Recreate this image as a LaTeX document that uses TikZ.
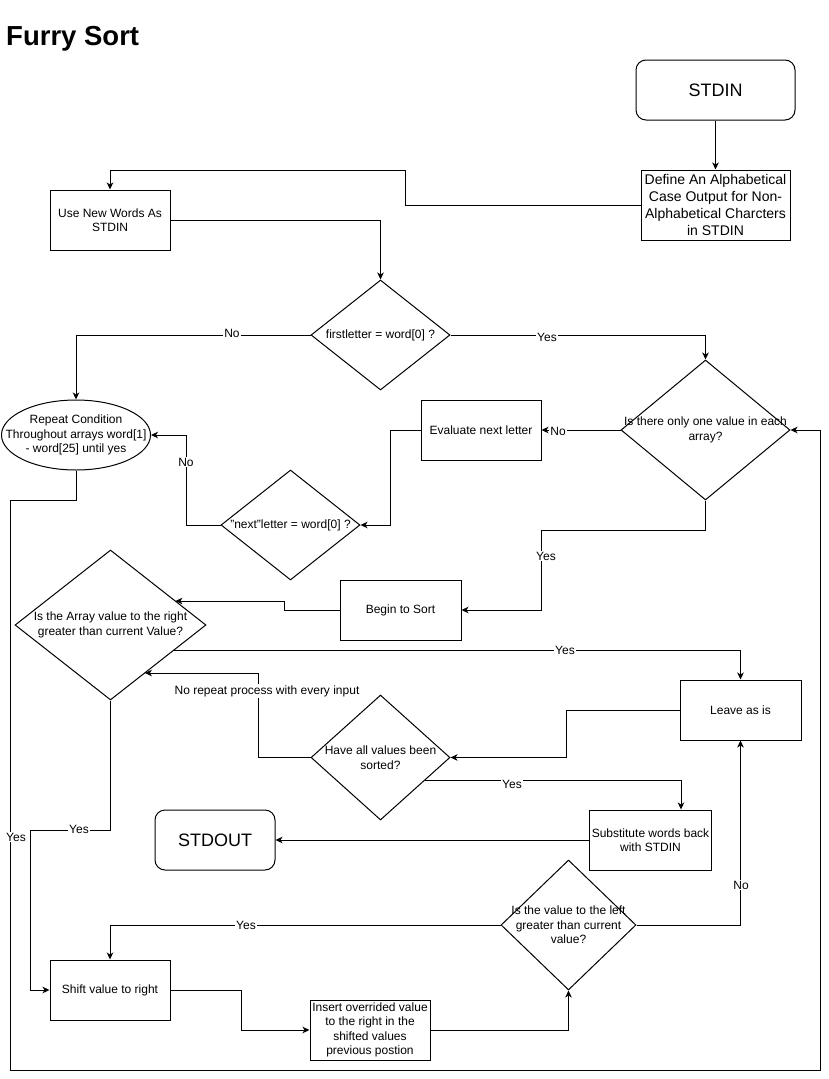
\documentclass[tikz,border=0pt]{standalone}
\usepackage{fontspec}
\setmainfont{Liberation Sans}
\usetikzlibrary{shapes.geometric,arrows.meta}
\begin{document}
\begin{tikzpicture}[x=1pt,y=-1pt,
  every node/.style={font=\fontsize{12}{14.5}\selectfont},
  box/.style={draw,line width=1pt,rectangle,align=center,inner sep=2pt},
  dia/.style={draw,line width=1pt,shape=diamond,inner sep=0pt},
  ell/.style={draw,line width=1pt,shape=ellipse,inner sep=0pt},
  txt/.style={align=center,inner sep=0pt},
  lab/.style={fill=white,inner sep=1pt,font=\fontsize{12}{14}\selectfont},
  arr/.style={line width=1pt,-{Stealth[length=7pt,width=6.5pt,inset=2pt]}},
  big/.style={font=\fontsize{18}{21}\selectfont}]
\useasboundingbox (0,0) rectangle (829,1079);
\fill[white] (0,0) rectangle (829,1079);

% title
\node[anchor=base west,inner sep=0pt,font=\bfseries\fontsize{27.5}{30}\selectfont] (title) at (6,45) {Furry Sort};

% nodes
\node[box,big,minimum width=159pt,minimum height=60pt,rounded corners=10pt] (stdin) at (715.5,90) {STDIN};
\node[box,minimum width=149pt,minimum height=70pt,font=\fontsize{14}{16.8}\selectfont] (def) at (715.5,205) {Define An Alphabetical\\Case Output for Non-\\Alphabetical Charcters\\in STDIN};
\node[box,minimum width=120pt,minimum height=60pt] (use) at (110,220) {Use New Words As\\STDIN};
\node[dia,minimum width=139pt,minimum height=110pt,label={[txt]center:{firstletter = word[0] ?}}] (d1) at (380.5,335) {};
\node[dia,minimum width=169pt,minimum height=140pt,label={[txt]center:{Is there only one value in each\\array?}}] (d2) at (705.5,430) {};
\node[box,minimum width=120pt,minimum height=60pt] (eval) at (481,430) {Evaluate next letter};
\node[dia,minimum width=139pt,minimum height=110pt,label={[txt]center:{"next"letter = word[0] ?}}] (d3) at (290.5,525) {};
\node[ell,minimum width=149pt,minimum height=70pt,label={[txt]center:{Repeat Condition\\Throughout arrays word[1]\\- word[25] until yes}}] (rep) at (76,435) {};
\node[box,minimum width=121pt,minimum height=60pt] (begin) at (400.5,610) {Begin to Sort};
\node[dia,minimum width=191pt,minimum height=150pt,label={[txt]center:{Is the Array value to the right\\greater than current Value?}}] (d4) at (110.5,625) {};
\node[box,minimum width=121pt,minimum height=60pt] (leave) at (740.5,710) {Leave as is};
\node[dia,minimum width=139pt,minimum height=125pt,label={[txt]center:{Have all values been\\sorted?}}] (d5) at (380.5,757.5) {};
\node[box,minimum width=121pt,minimum height=60pt] (subst) at (650.5,840) {Substitute words back\\with STDIN};
\node[box,big,minimum width=120pt,minimum height=60pt,rounded corners=10pt] (stdout) at (215,840) {STDOUT};
\node[dia,minimum width=135pt,minimum height=130pt,label={[txt]center:{Is the value to the left\\greater than current\\value?}}] (d6) at (568.5,925) {};
\node[box,minimum width=120pt,minimum height=60pt] (shift) at (110,990) {Shift value to right};
\node[box,minimum width=120pt,minimum height=60pt] (insert) at (370,1030) {Insert overrided value\\to the right in the\\shifted values\\previous postion};

% helper coordinates on diamond borders
\coordinate (d4a) at (175.4,601);
\coordinate (d4b) at (174.2,650);
\coordinate (d4c) at (144.9,673);
\coordinate (d5b) at (425,780);

% connectors
\draw[arr] (stdin.south) -- (def.north);
\draw[arr] (def.west) -| (405,170) -| (use.north);
\draw[arr] (use.east) -| (d1.north);
\draw[arr] (d1.west) -| (rep.north);
\draw[arr] (d1.east) -| (d2.north);
\draw[arr] (d2.west) -- (eval.east);
\draw[arr] (eval.west) -| (390,525) -- (d3.east);
\draw[arr] (d3.west) -| (186,435) -- (rep.east);
\draw[arr] (rep.south) -- (76,500) -- (10,500) -- (10,1070) -- (820,1070) -- (820,430) -- (d2.east);
\draw[arr] (d2.south) |- (541,530) |- (begin.east);
\draw[arr] (begin.west) -| (284,601) -- (d4a);
\draw[arr] (d4b) -| (leave.north);
\draw[arr] (leave.west) -| (566,757.5) -- (d5.east);
\draw[arr] (d5.west) -| (258,673) -- (d4c);
\draw[arr] (d5b) -| ([xshift=30.5pt]subst.north);
\draw[arr] (subst.west) -- (stdout.east);
\draw[arr] (d4.south) |- (30,830) |- (shift.west);
\draw[arr] (d6.east) -| (leave.south);
\draw[arr] (d6.west) -| (shift.north);
\draw[arr] (shift.east) -| (241,1030) -- (insert.west);
\draw[arr] (insert.east) -| (d6.south);

% edge labels
\node[lab] (l1) at (232,333) {No};
\node[lab] (l2) at (547,337) {Yes};
\node[lab] (l3) at (558,431) {No};
\node[lab] (l4) at (186,462) {No};
\node[lab] (l5) at (546,556) {Yes};
\node[lab] (l6) at (16,837) {Yes};
\node[lab] (l7) at (565,650) {Yes};
\node[lab] (l8) at (267,691) {No repeat process with every input};
\node[lab] (l9) at (512,784) {Yes};
\node[lab] (l10) at (79,829) {Yes};
\node[lab] (l11) at (741,885) {No};
\node[lab] (l12) at (246,925) {Yes};
\end{tikzpicture}
\end{document}
